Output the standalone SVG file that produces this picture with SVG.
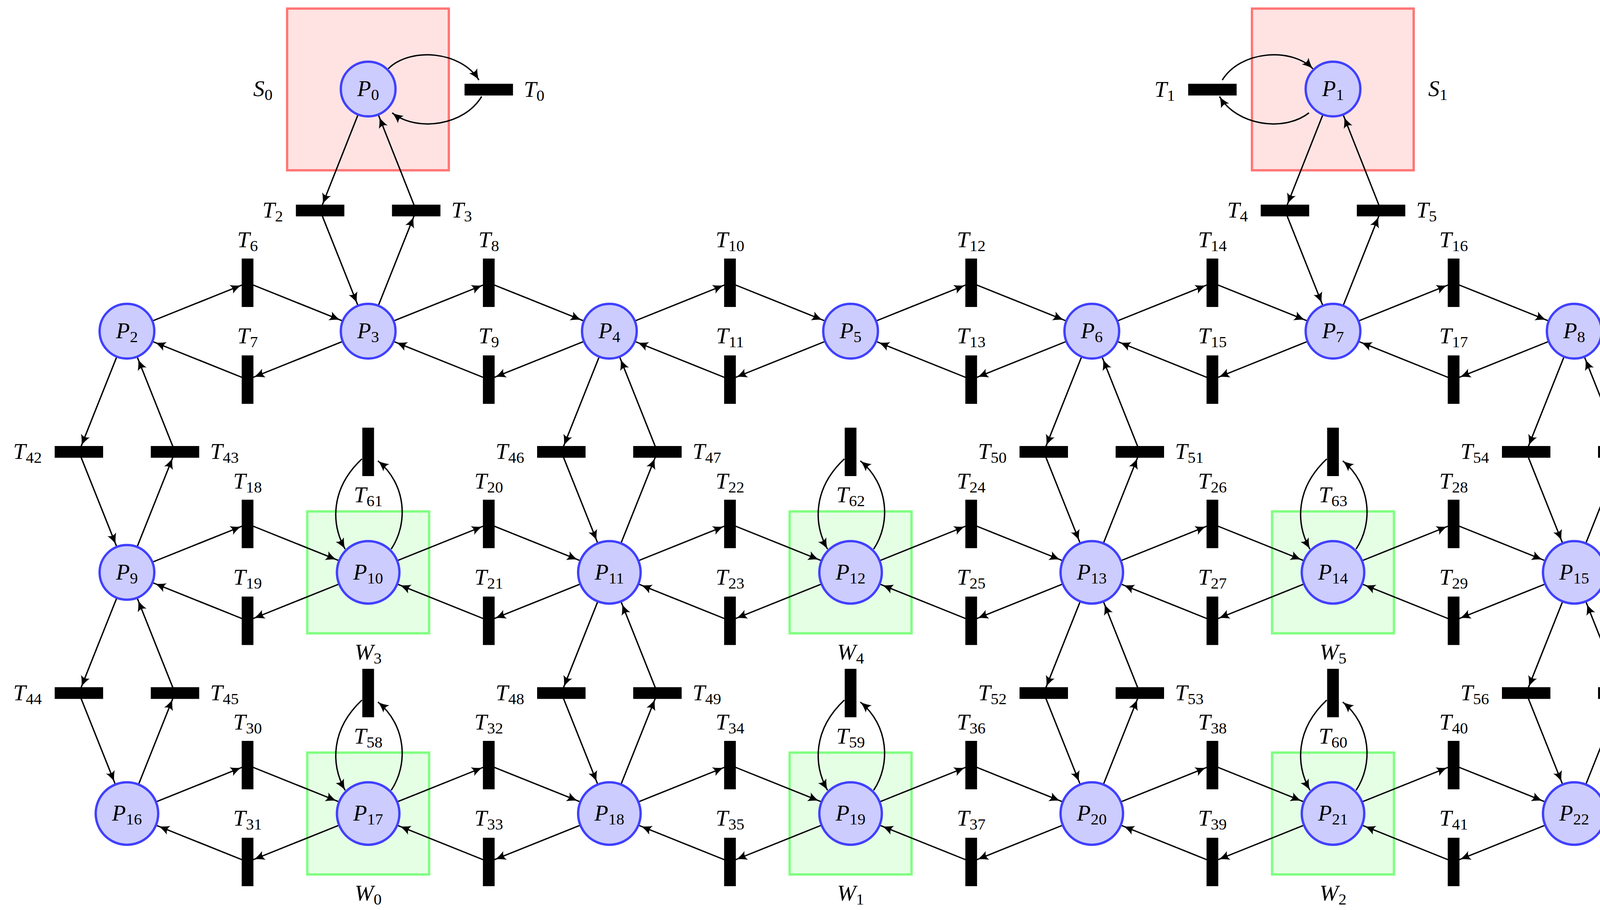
<svg xmlns="http://www.w3.org/2000/svg" width="4349" height="2330" viewBox="0 0 4349 2330">
<style>
.pl{fill:#ccccff;stroke:#4040ff;stroke-width:6}
.e{fill:none;stroke:#000;stroke-width:3.5}
.b{marker-end:url(#ab)} .p{marker-end:url(#ap)} .q{marker-end:url(#aq)} .z{marker-end:url(#a0)}
text{font-family:"Liberation Serif","DejaVu Serif",serif;font-size:58px;fill:#000}
.i{font-style:italic}
.s{font-size:41px}
.c{text-anchor:middle}
.n{text-anchor:end}
.sbox{fill:#ffe3e3;stroke:#ff7777;stroke-width:6}
.wbox{fill:#e5ffe5;stroke:#80ff80;stroke-width:6}
</style>
<defs>
<path id="ah" d="M -28 -12 Q -13 -3 0 0 Q -13 3 -28 12 Q -20 0 -28 -12 Z" fill="#000"/>
<marker id="a0" markerUnits="userSpaceOnUse" orient="auto" overflow="visible" refX="0" refY="0" markerWidth="1" markerHeight="1"><use href="#ah"/></marker>
<marker id="ab" markerUnits="userSpaceOnUse" orient="auto" overflow="visible" refX="17" refY="0" markerWidth="1" markerHeight="1"><use href="#ah"/></marker>
<marker id="ap" markerUnits="userSpaceOnUse" orient="auto" overflow="visible" refX="77" refY="0" markerWidth="1" markerHeight="1"><use href="#ah"/></marker>
<marker id="aq" markerUnits="userSpaceOnUse" orient="auto" overflow="visible" refX="87" refY="0" markerWidth="1" markerHeight="1"><use href="#ah"/></marker>
<rect id="vb" x="-15" y="-62" width="30" height="124" fill="#000"/>
<rect id="hb" x="-62" y="-15" width="124" height="30" fill="#000"/>
<g id="loop">
<path class="e z" d="M -16 18 C -96 93 -96 183 -59 249"/>
<path class="e z" d="M 59 249 C 103 183 98 83 25 23"/>
</g>
</defs>

<g id="boxes">
<rect class="sbox" x="735" y="22" width="414" height="414"/>
<rect class="sbox" x="3205" y="22" width="414" height="414"/>
<rect class="wbox" x="786.5" y="1309.5" width="312" height="312"/>
<rect class="wbox" x="2021.5" y="1309.5" width="312" height="312"/>
<rect class="wbox" x="3256.5" y="1309.5" width="312" height="312"/>
<rect class="wbox" x="786.5" y="1927" width="312" height="312"/>
<rect class="wbox" x="2021.5" y="1927" width="312" height="312"/>
<rect class="wbox" x="3256.5" y="1927" width="312" height="312"/>
</g>

<g id="connectors">
<path class="e z" d="M 994 176 C 1050 120 1180 130 1226 205"/>
<path class="e z" d="M 1233 247 C 1190 320 1070 340 1004 289"/>
<path class="e z" d="M 3129 205 C 3175 130 3305 120 3361 176"/>
<path class="e z" d="M 3351 289 C 3285 340 3165 320 3122 247"/>
<path class="e b" d="M 942.5 228 L 819.5 539"/>
<path class="e p" d="M 819.5 539 L 942.5 848"/>
<path class="e b" d="M 942.5 848 L 1065.5 539"/>
<path class="e p" d="M 1065.5 539 L 942.5 228"/>
<path class="e b" d="M 3412.5 228 L 3289.5 539"/>
<path class="e p" d="M 3289.5 539 L 3412.5 848"/>
<path class="e b" d="M 3412.5 848 L 3535.5 539"/>
<path class="e p" d="M 3535.5 539 L 3412.5 228"/>
<path class="e b" d="M 325 848 L 633.75 724"/><path class="e p" d="M 633.75 724 L 942.5 848"/><path class="e b" d="M 942.5 848 L 633.75 972"/><path class="e p" d="M 633.75 972 L 325 848"/>
<path class="e b" d="M 942.5 848 L 1251.25 724"/><path class="e p" d="M 1251.25 724 L 1560 848"/><path class="e b" d="M 1560 848 L 1251.25 972"/><path class="e p" d="M 1251.25 972 L 942.5 848"/>
<path class="e b" d="M 1560 848 L 1868.75 724"/><path class="e p" d="M 1868.75 724 L 2177.5 848"/><path class="e b" d="M 2177.5 848 L 1868.75 972"/><path class="e p" d="M 1868.75 972 L 1560 848"/>
<path class="e b" d="M 2177.5 848 L 2486.25 724"/><path class="e p" d="M 2486.25 724 L 2795 848"/><path class="e b" d="M 2795 848 L 2486.25 972"/><path class="e p" d="M 2486.25 972 L 2177.5 848"/>
<path class="e b" d="M 2795 848 L 3103.75 724"/><path class="e p" d="M 3103.75 724 L 3412.5 848"/><path class="e b" d="M 3412.5 848 L 3103.75 972"/><path class="e p" d="M 3103.75 972 L 2795 848"/>
<path class="e b" d="M 3412.5 848 L 3721.25 724"/><path class="e p" d="M 3721.25 724 L 4030 848"/><path class="e b" d="M 4030 848 L 3721.25 972"/><path class="e p" d="M 3721.25 972 L 3412.5 848"/>
<path class="e b" d="M 325 1465.5 L 633.75 1341.5"/><path class="e q" d="M 633.75 1341.5 L 942.5 1465.5"/><path class="e b" d="M 942.5 1465.5 L 633.75 1589.5"/><path class="e p" d="M 633.75 1589.5 L 325 1465.5"/>
<path class="e b" d="M 942.5 1465.5 L 1251.25 1341.5"/><path class="e q" d="M 1251.25 1341.5 L 1560 1465.5"/><path class="e b" d="M 1560 1465.5 L 1251.25 1589.5"/><path class="e q" d="M 1251.25 1589.5 L 942.5 1465.5"/>
<path class="e b" d="M 1560 1465.5 L 1868.75 1341.5"/><path class="e q" d="M 1868.75 1341.5 L 2177.5 1465.5"/><path class="e b" d="M 2177.5 1465.5 L 1868.75 1589.5"/><path class="e q" d="M 1868.75 1589.5 L 1560 1465.5"/>
<path class="e b" d="M 2177.5 1465.5 L 2486.25 1341.5"/><path class="e q" d="M 2486.25 1341.5 L 2795 1465.5"/><path class="e b" d="M 2795 1465.5 L 2486.25 1589.5"/><path class="e q" d="M 2486.25 1589.5 L 2177.5 1465.5"/>
<path class="e b" d="M 2795 1465.5 L 3103.75 1341.5"/><path class="e q" d="M 3103.75 1341.5 L 3412.5 1465.5"/><path class="e b" d="M 3412.5 1465.5 L 3103.75 1589.5"/><path class="e q" d="M 3103.75 1589.5 L 2795 1465.5"/>
<path class="e b" d="M 3412.5 1465.5 L 3721.25 1341.5"/><path class="e q" d="M 3721.25 1341.5 L 4030 1465.5"/><path class="e b" d="M 4030 1465.5 L 3721.25 1589.5"/><path class="e q" d="M 3721.25 1589.5 L 3412.5 1465.5"/>
<path class="e b" d="M 325 2083 L 633.75 1959"/><path class="e q" d="M 633.75 1959 L 942.5 2083"/><path class="e b" d="M 942.5 2083 L 633.75 2207"/><path class="e q" d="M 633.75 2207 L 325 2083"/>
<path class="e b" d="M 942.5 2083 L 1251.25 1959"/><path class="e q" d="M 1251.25 1959 L 1560 2083"/><path class="e b" d="M 1560 2083 L 1251.25 2207"/><path class="e q" d="M 1251.25 2207 L 942.5 2083"/>
<path class="e b" d="M 1560 2083 L 1868.75 1959"/><path class="e q" d="M 1868.75 1959 L 2177.5 2083"/><path class="e b" d="M 2177.5 2083 L 1868.75 2207"/><path class="e q" d="M 1868.75 2207 L 1560 2083"/>
<path class="e b" d="M 2177.5 2083 L 2486.25 1959"/><path class="e q" d="M 2486.25 1959 L 2795 2083"/><path class="e b" d="M 2795 2083 L 2486.25 2207"/><path class="e q" d="M 2486.25 2207 L 2177.5 2083"/>
<path class="e b" d="M 2795 2083 L 3103.75 1959"/><path class="e q" d="M 3103.75 1959 L 3412.5 2083"/><path class="e b" d="M 3412.5 2083 L 3103.75 2207"/><path class="e q" d="M 3103.75 2207 L 2795 2083"/>
<path class="e b" d="M 3412.5 2083 L 3721.25 1959"/><path class="e q" d="M 3721.25 1959 L 4030 2083"/><path class="e b" d="M 4030 2083 L 3721.25 2207"/><path class="e q" d="M 3721.25 2207 L 3412.5 2083"/>
<path class="e b" d="M 325 848 L 202 1157"/><path class="e p" d="M 202 1157 L 325 1465.5"/><path class="e b" d="M 325 1465.5 L 448 1157"/><path class="e p" d="M 448 1157 L 325 848"/>
<path class="e b" d="M 1560 848 L 1437 1157"/><path class="e q" d="M 1437 1157 L 1560 1465.5"/><path class="e b" d="M 1560 1465.5 L 1683 1157"/><path class="e p" d="M 1683 1157 L 1560 848"/>
<path class="e b" d="M 2795 848 L 2672 1157"/><path class="e q" d="M 2672 1157 L 2795 1465.5"/><path class="e b" d="M 2795 1465.5 L 2918 1157"/><path class="e p" d="M 2918 1157 L 2795 848"/>
<path class="e b" d="M 4030 848 L 3907 1157"/><path class="e q" d="M 3907 1157 L 4030 1465.5"/><path class="e b" d="M 4030 1465.5 L 4153 1157"/><path class="e p" d="M 4153 1157 L 4030 848"/>
<path class="e b" d="M 325 1465.5 L 202 1774.5"/><path class="e q" d="M 202 1774.5 L 325 2083"/><path class="e b" d="M 325 2083 L 448 1774.5"/><path class="e p" d="M 448 1774.5 L 325 1465.5"/>
<path class="e b" d="M 1560 1465.5 L 1437 1774.5"/><path class="e q" d="M 1437 1774.5 L 1560 2083"/><path class="e b" d="M 1560 2083 L 1683 1774.5"/><path class="e q" d="M 1683 1774.5 L 1560 1465.5"/>
<path class="e b" d="M 2795 1465.5 L 2672 1774.5"/><path class="e q" d="M 2672 1774.5 L 2795 2083"/><path class="e b" d="M 2795 2083 L 2918 1774.5"/><path class="e q" d="M 2918 1774.5 L 2795 1465.5"/>
<path class="e b" d="M 4030 1465.5 L 3907 1774.5"/><path class="e q" d="M 3907 1774.5 L 4030 2083"/><path class="e b" d="M 4030 2083 L 4153 1774.5"/><path class="e q" d="M 4153 1774.5 L 4030 1465.5"/>
<use href="#loop" x="942.5" y="1157"/><use href="#loop" x="2177.5" y="1157"/><use href="#loop" x="3412.5" y="1157"/>
<use href="#loop" x="942.5" y="1774.5"/><use href="#loop" x="2177.5" y="1774.5"/><use href="#loop" x="3412.5" y="1774.5"/>
</g>

<g id="transitions">
<g id="T0"><use href="#hb" x="1251.25" y="229.5"/><text x="1341" y="247.5"><tspan class="i">T</tspan><tspan class="s" dy="10">0</tspan></text></g>
<g id="T1"><use href="#hb" x="3103.75" y="229.5"/><text class="n" x="3008" y="247.5"><tspan class="i">T</tspan><tspan class="s" dy="10">1</tspan></text></g>
<g id="T2"><use href="#hb" x="819.5" y="539"/><text class="n" x="724.5" y="557"><tspan class="i">T</tspan><tspan class="s" dy="10">2</tspan></text></g>
<g id="T3"><use href="#hb" x="1065.5" y="539"/><text x="1155.5" y="557"><tspan class="i">T</tspan><tspan class="s" dy="10">3</tspan></text></g>
<g id="T4"><use href="#hb" x="3289.5" y="539"/><text class="n" x="3194.5" y="557"><tspan class="i">T</tspan><tspan class="s" dy="10">4</tspan></text></g>
<g id="T5"><use href="#hb" x="3535.5" y="539"/><text x="3625.5" y="557"><tspan class="i">T</tspan><tspan class="s" dy="10">5</tspan></text></g>

<g id="T6"><use href="#vb" x="633.75" y="724"/><text class="c" x="633.75" y="633"><tspan class="i">T</tspan><tspan class="s" dy="10">6</tspan></text></g>
<g id="T7"><use href="#vb" x="633.75" y="972"/><text class="c" x="633.75" y="879"><tspan class="i">T</tspan><tspan class="s" dy="10">7</tspan></text></g>
<g id="T8"><use href="#vb" x="1251.25" y="724"/><text class="c" x="1251.25" y="633"><tspan class="i">T</tspan><tspan class="s" dy="10">8</tspan></text></g>
<g id="T9"><use href="#vb" x="1251.25" y="972"/><text class="c" x="1251.25" y="879"><tspan class="i">T</tspan><tspan class="s" dy="10">9</tspan></text></g>
<g id="T10"><use href="#vb" x="1868.75" y="724"/><text class="c" x="1868.75" y="633"><tspan class="i">T</tspan><tspan class="s" dy="10">10</tspan></text></g>
<g id="T11"><use href="#vb" x="1868.75" y="972"/><text class="c" x="1868.75" y="879"><tspan class="i">T</tspan><tspan class="s" dy="10">11</tspan></text></g>
<g id="T12"><use href="#vb" x="2486.25" y="724"/><text class="c" x="2486.25" y="633"><tspan class="i">T</tspan><tspan class="s" dy="10">12</tspan></text></g>
<g id="T13"><use href="#vb" x="2486.25" y="972"/><text class="c" x="2486.25" y="879"><tspan class="i">T</tspan><tspan class="s" dy="10">13</tspan></text></g>
<g id="T14"><use href="#vb" x="3103.75" y="724"/><text class="c" x="3103.75" y="633"><tspan class="i">T</tspan><tspan class="s" dy="10">14</tspan></text></g>
<g id="T15"><use href="#vb" x="3103.75" y="972"/><text class="c" x="3103.75" y="879"><tspan class="i">T</tspan><tspan class="s" dy="10">15</tspan></text></g>
<g id="T16"><use href="#vb" x="3721.25" y="724"/><text class="c" x="3721.25" y="633"><tspan class="i">T</tspan><tspan class="s" dy="10">16</tspan></text></g>
<g id="T17"><use href="#vb" x="3721.25" y="972"/><text class="c" x="3721.25" y="879"><tspan class="i">T</tspan><tspan class="s" dy="10">17</tspan></text></g>

<g id="T18"><use href="#vb" x="633.75" y="1341.5"/><text class="c" x="633.75" y="1250.5"><tspan class="i">T</tspan><tspan class="s" dy="10">18</tspan></text></g>
<g id="T19"><use href="#vb" x="633.75" y="1589.5"/><text class="c" x="633.75" y="1496.5"><tspan class="i">T</tspan><tspan class="s" dy="10">19</tspan></text></g>
<g id="T20"><use href="#vb" x="1251.25" y="1341.5"/><text class="c" x="1251.25" y="1250.5"><tspan class="i">T</tspan><tspan class="s" dy="10">20</tspan></text></g>
<g id="T21"><use href="#vb" x="1251.25" y="1589.5"/><text class="c" x="1251.25" y="1496.5"><tspan class="i">T</tspan><tspan class="s" dy="10">21</tspan></text></g>
<g id="T22"><use href="#vb" x="1868.75" y="1341.5"/><text class="c" x="1868.75" y="1250.5"><tspan class="i">T</tspan><tspan class="s" dy="10">22</tspan></text></g>
<g id="T23"><use href="#vb" x="1868.75" y="1589.5"/><text class="c" x="1868.75" y="1496.5"><tspan class="i">T</tspan><tspan class="s" dy="10">23</tspan></text></g>
<g id="T24"><use href="#vb" x="2486.25" y="1341.5"/><text class="c" x="2486.25" y="1250.5"><tspan class="i">T</tspan><tspan class="s" dy="10">24</tspan></text></g>
<g id="T25"><use href="#vb" x="2486.25" y="1589.5"/><text class="c" x="2486.25" y="1496.5"><tspan class="i">T</tspan><tspan class="s" dy="10">25</tspan></text></g>
<g id="T26"><use href="#vb" x="3103.75" y="1341.5"/><text class="c" x="3103.75" y="1250.5"><tspan class="i">T</tspan><tspan class="s" dy="10">26</tspan></text></g>
<g id="T27"><use href="#vb" x="3103.75" y="1589.5"/><text class="c" x="3103.75" y="1496.5"><tspan class="i">T</tspan><tspan class="s" dy="10">27</tspan></text></g>
<g id="T28"><use href="#vb" x="3721.25" y="1341.5"/><text class="c" x="3721.25" y="1250.5"><tspan class="i">T</tspan><tspan class="s" dy="10">28</tspan></text></g>
<g id="T29"><use href="#vb" x="3721.25" y="1589.5"/><text class="c" x="3721.25" y="1496.5"><tspan class="i">T</tspan><tspan class="s" dy="10">29</tspan></text></g>

<g id="T30"><use href="#vb" x="633.75" y="1959"/><text class="c" x="633.75" y="1868"><tspan class="i">T</tspan><tspan class="s" dy="10">30</tspan></text></g>
<g id="T31"><use href="#vb" x="633.75" y="2207"/><text class="c" x="633.75" y="2114"><tspan class="i">T</tspan><tspan class="s" dy="10">31</tspan></text></g>
<g id="T32"><use href="#vb" x="1251.25" y="1959"/><text class="c" x="1251.25" y="1868"><tspan class="i">T</tspan><tspan class="s" dy="10">32</tspan></text></g>
<g id="T33"><use href="#vb" x="1251.25" y="2207"/><text class="c" x="1251.25" y="2114"><tspan class="i">T</tspan><tspan class="s" dy="10">33</tspan></text></g>
<g id="T34"><use href="#vb" x="1868.75" y="1959"/><text class="c" x="1868.75" y="1868"><tspan class="i">T</tspan><tspan class="s" dy="10">34</tspan></text></g>
<g id="T35"><use href="#vb" x="1868.75" y="2207"/><text class="c" x="1868.75" y="2114"><tspan class="i">T</tspan><tspan class="s" dy="10">35</tspan></text></g>
<g id="T36"><use href="#vb" x="2486.25" y="1959"/><text class="c" x="2486.25" y="1868"><tspan class="i">T</tspan><tspan class="s" dy="10">36</tspan></text></g>
<g id="T37"><use href="#vb" x="2486.25" y="2207"/><text class="c" x="2486.25" y="2114"><tspan class="i">T</tspan><tspan class="s" dy="10">37</tspan></text></g>
<g id="T38"><use href="#vb" x="3103.75" y="1959"/><text class="c" x="3103.75" y="1868"><tspan class="i">T</tspan><tspan class="s" dy="10">38</tspan></text></g>
<g id="T39"><use href="#vb" x="3103.75" y="2207"/><text class="c" x="3103.75" y="2114"><tspan class="i">T</tspan><tspan class="s" dy="10">39</tspan></text></g>
<g id="T40"><use href="#vb" x="3721.25" y="1959"/><text class="c" x="3721.25" y="1868"><tspan class="i">T</tspan><tspan class="s" dy="10">40</tspan></text></g>
<g id="T41"><use href="#vb" x="3721.25" y="2207"/><text class="c" x="3721.25" y="2114"><tspan class="i">T</tspan><tspan class="s" dy="10">41</tspan></text></g>

<g id="T42"><use href="#hb" x="202" y="1157"/><text class="n" x="107" y="1175"><tspan class="i">T</tspan><tspan class="s" dy="10">42</tspan></text></g>
<g id="T43"><use href="#hb" x="448" y="1157"/><text x="538" y="1175"><tspan class="i">T</tspan><tspan class="s" dy="10">43</tspan></text></g>
<g id="T46"><use href="#hb" x="1437" y="1157"/><text class="n" x="1342" y="1175"><tspan class="i">T</tspan><tspan class="s" dy="10">46</tspan></text></g>
<g id="T47"><use href="#hb" x="1683" y="1157"/><text x="1773" y="1175"><tspan class="i">T</tspan><tspan class="s" dy="10">47</tspan></text></g>
<g id="T50"><use href="#hb" x="2672" y="1157"/><text class="n" x="2577" y="1175"><tspan class="i">T</tspan><tspan class="s" dy="10">50</tspan></text></g>
<g id="T51"><use href="#hb" x="2918" y="1157"/><text x="3008" y="1175"><tspan class="i">T</tspan><tspan class="s" dy="10">51</tspan></text></g>
<g id="T54"><use href="#hb" x="3907" y="1157"/><text class="n" x="3812" y="1175"><tspan class="i">T</tspan><tspan class="s" dy="10">54</tspan></text></g>
<g id="T55"><use href="#hb" x="4153" y="1157"/><text x="4236" y="1175"><tspan class="i">T</tspan><tspan class="s" dy="10">55</tspan></text></g>
<g id="T44"><use href="#hb" x="202" y="1774.5"/><text class="n" x="107" y="1792.5"><tspan class="i">T</tspan><tspan class="s" dy="10">44</tspan></text></g>
<g id="T45"><use href="#hb" x="448" y="1774.5"/><text x="538" y="1792.5"><tspan class="i">T</tspan><tspan class="s" dy="10">45</tspan></text></g>
<g id="T48"><use href="#hb" x="1437" y="1774.5"/><text class="n" x="1342" y="1792.5"><tspan class="i">T</tspan><tspan class="s" dy="10">48</tspan></text></g>
<g id="T49"><use href="#hb" x="1683" y="1774.5"/><text x="1773" y="1792.5"><tspan class="i">T</tspan><tspan class="s" dy="10">49</tspan></text></g>
<g id="T52"><use href="#hb" x="2672" y="1774.5"/><text class="n" x="2577" y="1792.5"><tspan class="i">T</tspan><tspan class="s" dy="10">52</tspan></text></g>
<g id="T53"><use href="#hb" x="2918" y="1774.5"/><text x="3008" y="1792.5"><tspan class="i">T</tspan><tspan class="s" dy="10">53</tspan></text></g>
<g id="T56"><use href="#hb" x="3907" y="1774.5"/><text class="n" x="3812" y="1792.5"><tspan class="i">T</tspan><tspan class="s" dy="10">56</tspan></text></g>
<g id="T57"><use href="#hb" x="4153" y="1774.5"/><text x="4236" y="1792.5"><tspan class="i">T</tspan><tspan class="s" dy="10">57</tspan></text></g>

<g id="T61"><use href="#vb" x="942.5" y="1157"/><text class="c" x="942.5" y="1286"><tspan class="i">T</tspan><tspan class="s" dy="10">61</tspan></text></g>
<g id="T62"><use href="#vb" x="2177.5" y="1157"/><text class="c" x="2177.5" y="1286"><tspan class="i">T</tspan><tspan class="s" dy="10">62</tspan></text></g>
<g id="T63"><use href="#vb" x="3412.5" y="1157"/><text class="c" x="3412.5" y="1286"><tspan class="i">T</tspan><tspan class="s" dy="10">63</tspan></text></g>
<g id="T58"><use href="#vb" x="942.5" y="1774.5"/><text class="c" x="942.5" y="1903.5"><tspan class="i">T</tspan><tspan class="s" dy="10">58</tspan></text></g>
<g id="T59"><use href="#vb" x="2177.5" y="1774.5"/><text class="c" x="2177.5" y="1903.5"><tspan class="i">T</tspan><tspan class="s" dy="10">59</tspan></text></g>
<g id="T60"><use href="#vb" x="3412.5" y="1774.5"/><text class="c" x="3412.5" y="1903.5"><tspan class="i">T</tspan><tspan class="s" dy="10">60</tspan></text></g>
</g>

<g id="places">
<g id="P0"><circle class="pl" cx="942.5" cy="228" r="70"/><text class="c" x="942.5" y="246"><tspan class="i">P</tspan><tspan class="s" dy="10">0</tspan></text></g>
<g id="P1"><circle class="pl" cx="3412.5" cy="228" r="70"/><text class="c" x="3412.5" y="246"><tspan class="i">P</tspan><tspan class="s" dy="10">1</tspan></text></g>
<g id="P2"><circle class="pl" cx="325" cy="848" r="70"/><text class="c" x="325" y="866"><tspan class="i">P</tspan><tspan class="s" dy="10">2</tspan></text></g>
<g id="P3"><circle class="pl" cx="942.5" cy="848" r="70"/><text class="c" x="942.5" y="866"><tspan class="i">P</tspan><tspan class="s" dy="10">3</tspan></text></g>
<g id="P4"><circle class="pl" cx="1560" cy="848" r="70"/><text class="c" x="1560" y="866"><tspan class="i">P</tspan><tspan class="s" dy="10">4</tspan></text></g>
<g id="P5"><circle class="pl" cx="2177.5" cy="848" r="70"/><text class="c" x="2177.5" y="866"><tspan class="i">P</tspan><tspan class="s" dy="10">5</tspan></text></g>
<g id="P6"><circle class="pl" cx="2795" cy="848" r="70"/><text class="c" x="2795" y="866"><tspan class="i">P</tspan><tspan class="s" dy="10">6</tspan></text></g>
<g id="P7"><circle class="pl" cx="3412.5" cy="848" r="70"/><text class="c" x="3412.5" y="866"><tspan class="i">P</tspan><tspan class="s" dy="10">7</tspan></text></g>
<g id="P8"><circle class="pl" cx="4030" cy="848" r="70"/><text class="c" x="4030" y="866"><tspan class="i">P</tspan><tspan class="s" dy="10">8</tspan></text></g>
<g id="P9"><circle class="pl" cx="325" cy="1465.5" r="70"/><text class="c" x="325" y="1483.5"><tspan class="i">P</tspan><tspan class="s" dy="10">9</tspan></text></g>
<g id="P10"><circle class="pl" cx="942.5" cy="1465.5" r="80"/><text class="c" x="942.5" y="1483.5"><tspan class="i">P</tspan><tspan class="s" dy="10">10</tspan></text></g>
<g id="P11"><circle class="pl" cx="1560" cy="1465.5" r="80"/><text class="c" x="1560" y="1483.5"><tspan class="i">P</tspan><tspan class="s" dy="10">11</tspan></text></g>
<g id="P12"><circle class="pl" cx="2177.5" cy="1465.5" r="80"/><text class="c" x="2177.5" y="1483.5"><tspan class="i">P</tspan><tspan class="s" dy="10">12</tspan></text></g>
<g id="P13"><circle class="pl" cx="2795" cy="1465.5" r="80"/><text class="c" x="2795" y="1483.5"><tspan class="i">P</tspan><tspan class="s" dy="10">13</tspan></text></g>
<g id="P14"><circle class="pl" cx="3412.5" cy="1465.5" r="80"/><text class="c" x="3412.5" y="1483.5"><tspan class="i">P</tspan><tspan class="s" dy="10">14</tspan></text></g>
<g id="P15"><circle class="pl" cx="4030" cy="1465.5" r="80"/><text class="c" x="4030" y="1483.5"><tspan class="i">P</tspan><tspan class="s" dy="10">15</tspan></text></g>
<g id="P16"><circle class="pl" cx="325" cy="2083" r="80"/><text class="c" x="325" y="2101"><tspan class="i">P</tspan><tspan class="s" dy="10">16</tspan></text></g>
<g id="P17"><circle class="pl" cx="942.5" cy="2083" r="80"/><text class="c" x="942.5" y="2101"><tspan class="i">P</tspan><tspan class="s" dy="10">17</tspan></text></g>
<g id="P18"><circle class="pl" cx="1560" cy="2083" r="80"/><text class="c" x="1560" y="2101"><tspan class="i">P</tspan><tspan class="s" dy="10">18</tspan></text></g>
<g id="P19"><circle class="pl" cx="2177.5" cy="2083" r="80"/><text class="c" x="2177.5" y="2101"><tspan class="i">P</tspan><tspan class="s" dy="10">19</tspan></text></g>
<g id="P20"><circle class="pl" cx="2795" cy="2083" r="80"/><text class="c" x="2795" y="2101"><tspan class="i">P</tspan><tspan class="s" dy="10">20</tspan></text></g>
<g id="P21"><circle class="pl" cx="3412.5" cy="2083" r="80"/><text class="c" x="3412.5" y="2101"><tspan class="i">P</tspan><tspan class="s" dy="10">21</tspan></text></g>
<g id="P22"><circle class="pl" cx="4030" cy="2083" r="80"/><text class="c" x="4030" y="2101"><tspan class="i">P</tspan><tspan class="s" dy="10">22</tspan></text></g>
</g>

<g id="labels">
<text class="c" x="673" y="246"><tspan class="i">S</tspan><tspan class="s" dy="10">0</tspan></text>
<text class="c" x="3681" y="246"><tspan class="i">S</tspan><tspan class="s" dy="10">1</tspan></text>
<text class="c" x="942.5" y="1688.5"><tspan class="i">W</tspan><tspan class="s" dy="10">3</tspan></text>
<text class="c" x="2177.5" y="1688.5"><tspan class="i">W</tspan><tspan class="s" dy="10">4</tspan></text>
<text class="c" x="3412.5" y="1688.5"><tspan class="i">W</tspan><tspan class="s" dy="10">5</tspan></text>
<text class="c" x="942.5" y="2306"><tspan class="i">W</tspan><tspan class="s" dy="10">0</tspan></text>
<text class="c" x="2177.5" y="2306"><tspan class="i">W</tspan><tspan class="s" dy="10">1</tspan></text>
<text class="c" x="3412.5" y="2306"><tspan class="i">W</tspan><tspan class="s" dy="10">2</tspan></text>
</g>
</svg>
